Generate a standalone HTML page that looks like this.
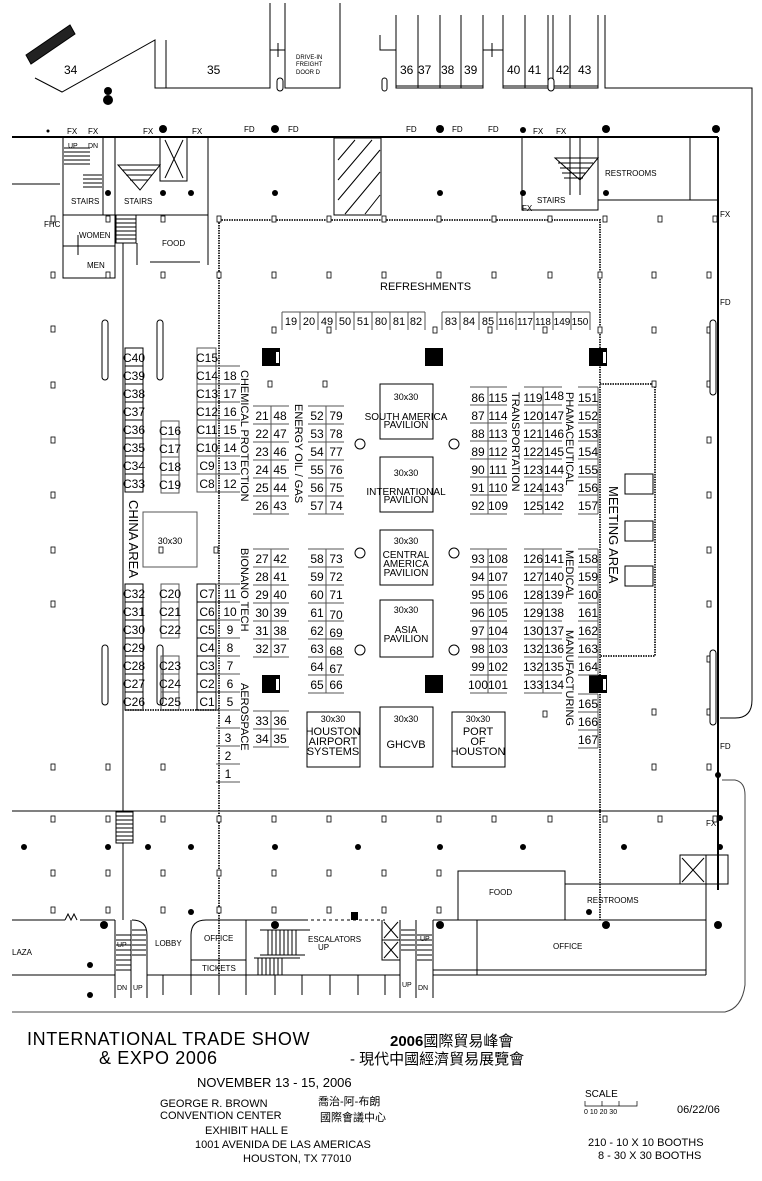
<!DOCTYPE html>
<html><head><meta charset="utf-8"><style>
html,body{margin:0;padding:0;background:#fff}
svg{display:block}
text{font-family:"Liberation Sans","Noto Sans CJK TC",sans-serif;fill:#000}
.n{font-size:12px;text-anchor:middle}
.s{font-size:8px}
.m{font-size:10px}
.b{fill:none;stroke:#000;stroke-width:1}
.g{fill:none;stroke:#555;stroke-width:1}
.w{fill:none;stroke:#333;stroke-width:2;stroke-dasharray:1.5 1}
</style></head><body>
<svg width="762" height="1181" viewBox="0 0 762 1181" xmlns="http://www.w3.org/2000/svg">
<rect width="762" height="1181" fill="#fff"/>
<g stroke="#000" fill="none">
<path d="M26 55 L70 25 L75 34 L31 64Z" fill="#222"/>
<path d="M35 78 L62 92 L155 40 L155 88 L270 88 L270 3"/>
<line x1="166" y1="40" x2="166" y2="88"/>
<path d="M285 3 L285 88 L340 88 L340 3"/>
<path d="M270 50 L285 50 M278 43 L278 57"/>
<rect x="277" y="78" width="6" height="13" rx="3" fill="#fff"/>
<path d="M380 35 L380 50 L396 50"/>
<rect x="382" y="78" width="5" height="13" rx="2.5" fill="#fff"/>
<path d="M396 15 L396 88 L483 88 L483 15 M418 15 L418 88 M440 15 L440 88 M461 15 L461 88"/>
<line x1="396" y1="86" x2="483" y2="86"/>
<path d="M483 50 L503 50 M492 43 L492 57"/>
<path d="M503 15 L503 88 L598 88 L598 15 M525 15 L525 88 M548 15 L548 88 M553 15 L553 88 M570 15 L570 88"/>
<line x1="503" y1="86" x2="598" y2="86"/>
<rect x="548" y="78" width="6" height="13" rx="3" fill="#fff"/>
<path d="M605 15 L605 88 L752 88 L752 700 Q752 718 735 718 L720 718"/>
<path d="M722 780 L735 780 Q745 782 745 795 L745 985 Q742 1008 725 1012 L12 1012" stroke="#444"/>
</g>
<circle cx="108" cy="91" r="4"/><circle cx="108" cy="100" r="5"/>
<text x="64" y="74" style="font-size:12px">34</text>
<text x="207" y="74" style="font-size:12px">35</text>
<text x="296" y="59" style="font-size:6px">DRIVE-IN</text>
<text x="296" y="66" style="font-size:6px">FREIGHT</text>
<text x="296" y="74" style="font-size:6px">DOOR D</text>
<g style="font-size:12px"><text x="400" y="74">36</text><text x="418" y="74">37</text><text x="441" y="74">38</text><text x="464" y="74">39</text>
<text x="507" y="74">40</text><text x="528" y="74">41</text><text x="556" y="74">42</text><text x="578" y="74">43</text></g>
<g stroke="#000" fill="none">
<line x1="12" y1="137" x2="718" y2="137" stroke-width="2"/>
<line x1="718" y1="137" x2="718" y2="890" stroke-width="2"/>
<path d="M63 137 L63 215 M103 137 L103 215 M115 137 L115 215 L208 215 L208 137 M63 215 L115 215 M12 184 L60 184"/>
<path d="M63 215 L63 278 L115 278 L115 215 M63 246 L115 246 M78 235 L78 255 M136 215 L136 243 M137 243 L137 265 M208 215 L208 265 M150 262 L200 262"/>
<rect x="116" y="215" width="20" height="28" fill="#fff"/>
<path d="M116 219 H136 M116 223 H136 M116 227 H136 M116 231 H136 M116 235 H136 M116 239 H136"/>
<path d="M64 148 H90 M64 152 H90 M64 156 H90 M64 160 H90 M64 164 H90 M83 175 H102 M83 179 H102 M83 183 H102 M83 187 H102"/>
<path d="M118 165 L160 165 L140 190 Z M122 170 H156 M126 175 H152 M130 180 H148"/>
<rect x="160" y="137" width="27" height="44"/><path d="M165 140 L183 178 M183 140 L165 178"/>
<rect x="334" y="138" width="47" height="77"/>
<path d="M338 160 L355 140 M338 180 L372 140 M338 200 L380 150 M345 214 L380 172 M365 214 L380 195"/>
<path d="M522 137 L522 210 L598 210 L598 137 M598 200 L718 200 M690 137 L690 200 M570 137 L570 195 M580 137 L580 195"/>
<path d="M555 158 L598 158 L580 180 Z M558 163 H593 M560 168 H590 M562 173 H586 M564 178 H583"/>
</g>
<g class="s">
<text x="67" y="134">FX</text><text x="88" y="134">FX</text><text x="143" y="134">FX</text><text x="192" y="134">FX</text>
<text x="244" y="132">FD</text><text x="288" y="132">FD</text><text x="406" y="132">FD</text><text x="452" y="132">FD</text><text x="488" y="132">FD</text>
<text x="533" y="134">FX</text><text x="556" y="134">FX</text>
<text x="68" y="148" style="font-size:7px">UP</text><text x="88" y="148" style="font-size:7px">DN</text>
<text x="71" y="204">STAIRS</text><text x="124" y="204">STAIRS</text><text x="537" y="203">STAIRS</text>
<text x="522" y="211">FX</text><text x="605" y="176">RESTROOMS</text>
<text x="44" y="227">FHC</text><text x="79" y="238">WOMEN</text><text x="87" y="268">MEN</text><text x="162" y="246">FOOD</text>
<text x="720" y="217">FX</text><text x="720" y="305">FD</text><text x="720" y="749">FD</text><text x="706" y="826">FX</text>
</g>
<g fill="#000">
<circle cx="163" cy="129" r="4"/><circle cx="275" cy="129" r="4"/><circle cx="440" cy="129" r="4"/><circle cx="523" cy="130" r="3"/><circle cx="606" cy="129" r="4"/><circle cx="716" cy="129" r="4"/>
<circle cx="108" cy="193" r="3"/><circle cx="163" cy="193" r="3"/><circle cx="191" cy="193" r="3"/><circle cx="275" cy="193" r="3"/><circle cx="440" cy="193" r="3"/><circle cx="523" cy="193" r="3"/><circle cx="606" cy="193" r="3"/>
<circle cx="48" cy="131" r="1.5"/>
</g>
<line x1="123" y1="243" x2="123" y2="920" stroke="#000"/>
<path class="w" d="M219 220 L600 220 L600 920 M219 220 L219 975"/>
<path class="w" d="M600 384 L655 384 L655 656 L600 656"/>
<rect x="625" y="474" width="28" height="20" class="b"/><rect x="625" y="521" width="28" height="20" class="b"/><rect x="625" y="566" width="28" height="20" class="b"/>
<g fill="#fff" stroke="#000" stroke-width="0.8">
<rect x="51" y="216" width="4" height="6"/><rect x="106" y="216" width="4" height="6"/><rect x="161" y="216" width="4" height="6"/><rect x="217" y="216" width="4" height="6"/><rect x="272" y="216" width="4" height="6"/><rect x="327" y="216" width="4" height="6"/><rect x="382" y="216" width="4" height="6"/><rect x="437" y="216" width="4" height="6"/><rect x="492" y="216" width="4" height="6"/><rect x="548" y="216" width="4" height="6"/><rect x="603" y="216" width="4" height="6"/><rect x="658" y="216" width="4" height="6"/><rect x="713" y="216" width="4" height="6"/>
<rect x="51" y="272" width="4" height="6"/><rect x="106" y="272" width="4" height="6"/><rect x="161" y="272" width="4" height="6"/><rect x="217" y="272" width="4" height="6"/><rect x="272" y="272" width="4" height="6"/><rect x="327" y="272" width="4" height="6"/><rect x="382" y="272" width="4" height="6"/><rect x="437" y="272" width="4" height="6"/><rect x="492" y="272" width="4" height="6"/><rect x="548" y="272" width="4" height="6"/><rect x="598" y="272" width="4" height="6"/><rect x="652" y="272" width="4" height="6"/><rect x="707" y="272" width="4" height="6"/>
<rect x="51" y="326" width="4" height="6"/><rect x="272" y="327" width="4" height="6"/><rect x="327" y="327" width="4" height="6"/><rect x="433" y="327" width="4" height="6"/><rect x="488" y="327" width="4" height="6"/><rect x="543" y="327" width="4" height="6"/><rect x="598" y="327" width="4" height="6"/><rect x="652" y="327" width="4" height="6"/><rect x="707" y="327" width="4" height="6"/>
<rect x="51" y="382" width="4" height="6"/><rect x="268" y="381" width="4" height="6"/><rect x="323" y="381" width="4" height="6"/><rect x="652" y="381" width="4" height="6"/><rect x="707" y="381" width="4" height="6"/>
<rect x="51" y="437" width="4" height="6"/><rect x="707" y="437" width="4" height="6"/>
<rect x="51" y="492" width="4" height="6"/><rect x="707" y="492" width="4" height="6"/>
<rect x="51" y="547" width="4" height="6"/><rect x="159" y="547" width="4" height="6"/><rect x="214" y="547" width="4" height="6"/><rect x="707" y="547" width="4" height="6"/>
<rect x="51" y="601" width="4" height="6"/><rect x="707" y="601" width="4" height="6"/>
<rect x="707" y="656" width="4" height="6"/>
<rect x="707" y="709" width="4" height="6"/><rect x="652" y="709" width="4" height="6"/><rect x="543" y="711" width="4" height="6"/>
<rect x="51" y="764" width="4" height="6"/><rect x="106" y="764" width="4" height="6"/><rect x="161" y="764" width="4" height="6"/><rect x="652" y="764" width="4" height="6"/><rect x="707" y="764" width="4" height="6"/>
<rect x="51" y="816" width="4" height="6"/><rect x="106" y="816" width="4" height="6"/><rect x="161" y="816" width="4" height="6"/><rect x="217" y="816" width="4" height="6"/><rect x="272" y="816" width="4" height="6"/><rect x="327" y="816" width="4" height="6"/><rect x="382" y="816" width="4" height="6"/><rect x="437" y="816" width="4" height="6"/><rect x="492" y="816" width="4" height="6"/><rect x="548" y="816" width="4" height="6"/><rect x="603" y="816" width="4" height="6"/><rect x="658" y="816" width="4" height="6"/><rect x="713" y="816" width="4" height="6"/>
<rect x="51" y="870" width="4" height="6"/><rect x="106" y="870" width="4" height="6"/><rect x="161" y="870" width="4" height="6"/><rect x="217" y="870" width="4" height="6"/><rect x="272" y="870" width="4" height="6"/><rect x="327" y="870" width="4" height="6"/><rect x="382" y="870" width="4" height="6"/><rect x="437" y="870" width="4" height="6"/>
<rect x="51" y="907" width="4" height="6"/><rect x="106" y="907" width="4" height="6"/><rect x="161" y="907" width="4" height="6"/><rect x="217" y="907" width="4" height="6"/><rect x="272" y="907" width="4" height="6"/><rect x="327" y="907" width="4" height="6"/><rect x="382" y="907" width="4" height="6"/><rect x="437" y="907" width="4" height="6"/>
</g>
<g fill="#fff" stroke="#000">
<rect x="102" y="320" width="6" height="60" rx="3"/><rect x="157" y="320" width="6" height="60" rx="3"/>
<rect x="102" y="645" width="6" height="60" rx="3"/><rect x="157" y="645" width="6" height="60" rx="3"/>
<rect x="710" y="320" width="6" height="75" rx="3"/><rect x="710" y="650" width="6" height="75" rx="3"/>
</g>
<text x="380" y="290" style="font-size:11px">REFRESHMENTS</text>
<g class="g">
<path d="M282 312 H425 M282 312 V330 M300 312 V330 M318 312 V330 M336 312 V330 M354 312 V330 M372 312 V330 M390 312 V330 M408 312 V330 M425 312 V330"/>
<path d="M442 312 H590 M442 312 V330 M460 312 V330 M479 312 V330 M497 312 V330 M516 312 V330 M534 312 V330 M553 312 V330 M571 312 V330 M590 312 V330"/>
</g>
<g class="n" style="font-size:11px">
<text x="291" y="325">19</text><text x="309" y="325">20</text><text x="327" y="325">49</text><text x="345" y="325">50</text><text x="363" y="325">51</text><text x="381" y="325">80</text><text x="399" y="325">81</text><text x="416" y="325">82</text>
<text x="451" y="325">83</text><text x="469" y="325">84</text><text x="488" y="325">85</text><text x="506" y="325" style="font-size:10px">116</text><text x="525" y="325" style="font-size:10px">117</text><text x="543" y="325" style="font-size:10px">118</text><text x="562" y="325" style="font-size:10px">149</text><text x="580" y="325" style="font-size:10px">150</text>
</g>
<g fill="#000"><rect x="262" y="348" width="18" height="18"/><rect x="425" y="348" width="18" height="18"/><rect x="589" y="348" width="18" height="18"/>
<rect x="262" y="675" width="18" height="18"/><rect x="425" y="675" width="18" height="18"/><rect x="589" y="675" width="18" height="18"/></g>
<g fill="#fff"><rect x="276" y="352" width="3" height="11"/><rect x="603" y="352" width="3" height="11"/><rect x="276" y="679" width="3" height="11"/><rect x="603" y="679" width="3" height="11"/></g>
<g fill="#fff" stroke="#000"><circle cx="360" cy="444" r="5"/><circle cx="454" cy="444" r="5"/><circle cx="360" cy="553" r="5"/><circle cx="454" cy="553" r="5"/><circle cx="360" cy="650" r="5"/><circle cx="454" cy="650" r="5"/></g>
<g class="b">
<rect x="380" y="384" width="53" height="55"/><rect x="380" y="457" width="53" height="55"/><rect x="380" y="530" width="53" height="55"/><rect x="380" y="600" width="53" height="57"/>
<rect x="307" y="712" width="53" height="55"/><rect x="380" y="707" width="53" height="60"/><rect x="452" y="712" width="53" height="55"/>
<rect x="143" y="512" width="54" height="55" stroke="#555"/>
</g>
<g class="m" text-anchor="middle">
<text x="406" y="400" style="font-size:9px">30x30</text><text x="406" y="420">SOUTH  AMERICA</text><text x="406" y="428">PAVILION</text>
<text x="406" y="476" style="font-size:9px">30x30</text><text x="406" y="495">INTERNATIONAL</text><text x="406" y="503">PAVILION</text>
<text x="406" y="544" style="font-size:9px">30x30</text><text x="406" y="558">CENTRAL</text><text x="406" y="567">AMERICA</text><text x="406" y="576">PAVILION</text>
<text x="406" y="613" style="font-size:9px">30x30</text><text x="406" y="633">ASIA</text><text x="406" y="642">PAVILION</text>
<text x="333" y="722" style="font-size:9px">30x30</text><text x="333" y="735" style="font-size:11px">HOUSTON</text><text x="333" y="745" style="font-size:11px">AIRPORT</text><text x="333" y="755" style="font-size:11px">SYSTEMS</text>
<text x="406" y="722" style="font-size:9px">30x30</text><text x="406" y="748" style="font-size:11px">GHCVB</text>
<text x="478" y="722" style="font-size:9px">30x30</text><text x="478" y="735" style="font-size:11px">PORT</text><text x="478" y="745" style="font-size:11px">OF</text><text x="478" y="755" style="font-size:11px">HOUSTON</text>
<text x="170" y="544" style="font-size:9px">30x30</text>
</g>
<g class="g">
<path d="M253 406 H289 M253 424 H289 M253 442 H289 M253 460 H289 M253 478 H289 M253 496 H289 M253 514 H289 M271 406 V514"/>
<path d="M308 406 H344 M308 424 H344 M308 442 H344 M308 460 H344 M308 478 H344 M308 496 H344 M308 514 H344 M326 406 V514"/>
<path d="M470 387 H507 M470 405 H507 M470 423 H507 M470 441 H507 M470 459 H507 M470 477 H507 M470 495 H507 M470 514 H507 M488 387 V514"/>
<path d="M524 387 H562 M524 405 H562 M524 423 H562 M524 441 H562 M524 459 H562 M524 477 H562 M524 495 H562 M524 514 H562 M543 387 V514"/>
<path d="M578 387 H598 M578 405 H598 M578 423 H598 M578 441 H598 M578 459 H598 M578 477 H598 M578 495 H598 M578 514 H598 M598 387 V514"/>
<path d="M253 549 H289 M253 567 H289 M253 585 H289 M253 603 H289 M253 621 H289 M253 639 H289 M253 657 H289 M271 549 V657"/>
<path d="M308 549 H344 M308 567 H344 M308 585 H344 M308 603 H344 M308 621 H344 M308 639 H344 M308 657 H344 M308 675 H344 M308 693 H344 M326 549 V693"/>
<path d="M470 549 H507 M470 567 H507 M470 585 H507 M470 603 H507 M470 621 H507 M470 639 H507 M470 657 H507 M470 675 H507 M470 693 H507 M488 549 V693"/>
<path d="M524 549 H562 M524 567 H562 M524 585 H562 M524 603 H562 M524 621 H562 M524 639 H562 M524 657 H562 M524 675 H562 M524 693 H562 M543 549 V693"/>
<path d="M578 549 H598 M578 567 H598 M578 585 H598 M578 603 H598 M578 621 H598 M578 639 H598 M578 657 H598 M578 675 H598 M598 549 V675 M578 694 H598 M578 712 H598 M578 730 H598 M578 748 H598 M598 694 V748"/>
<path d="M253 711 H289 M253 729 H289 M253 747 H289 M271 711 V747"/>
<path d="M125 348 H143 V492 H125 Z M125 366 H143 M125 384 H143 M125 402 H143 M125 420 H143 M125 438 H143 M125 456 H143 M125 474 H143" stroke="#000"/>
<path d="M125 584 H143 V710 H125 Z M125 602 H143 M125 620 H143 M125 638 H143 M125 656 H143 M125 674 H143 M125 692 H143" stroke="#000"/>
<path d="M161 421 H179 V493 H161 Z M161 439 H179 M161 457 H179 M161 475 H179"/>
<path d="M161 584 H179 V638 H161 Z M161 602 H179 M161 620 H179"/>
<path d="M161 656 H179 V710 H161 Z M161 674 H179 M161 692 H179"/>
<path d="M197 348 H216 V492 H197 Z M197 366 H216 M197 384 H216 M197 402 H216 M197 420 H216 M197 438 H216 M197 456 H216 M197 474 H216"/>
<path d="M216 366 H240 M216 384 H240 M216 402 H240 M216 420 H240 M216 438 H240 M216 456 H240 M216 474 H240 M216 492 H240"/>
<path d="M197 584 H216 V710 H197 Z M197 602 H216 M197 620 H216 M197 638 H216 M197 656 H216 M197 674 H216 M197 692 H216" stroke="#000"/>
<path d="M216 584 H240 M216 602 H240 M216 620 H240 M216 638 H240 M216 656 H240 M216 674 H240 M216 692 H240 M216 710 H240 M216 728 H240 M216 746 H240 M216 764 H240 M216 782 H240"/>
</g>
<path d="M125 710 L219 710" class="w" stroke-width="1.5"/>
<g class="n">
<text x="262" y="420">21</text><text x="280" y="420">48</text><text x="262" y="438">22</text><text x="280" y="438">47</text><text x="262" y="456">23</text><text x="280" y="456">46</text><text x="262" y="474">24</text><text x="280" y="474">45</text><text x="262" y="492">25</text><text x="280" y="492">44</text><text x="262" y="510">26</text><text x="280" y="510">43</text>
<text x="317" y="420">52</text><text x="336" y="420">79</text><text x="317" y="438">53</text><text x="336" y="438">78</text><text x="317" y="456">54</text><text x="336" y="456">77</text><text x="317" y="474">55</text><text x="336" y="474">76</text><text x="317" y="492">56</text><text x="336" y="492">75</text><text x="317" y="510">57</text><text x="336" y="510">74</text>
<text x="478" y="402">86</text><text x="498" y="402">115</text><text x="478" y="420">87</text><text x="498" y="420">114</text><text x="478" y="438">88</text><text x="498" y="438">113</text><text x="478" y="456">89</text><text x="498" y="456">112</text><text x="478" y="474">90</text><text x="498" y="474">111</text><text x="478" y="492">91</text><text x="498" y="492">110</text><text x="478" y="510">92</text><text x="498" y="510">109</text>
<text x="533" y="402">119</text><text x="554" y="400">148</text><text x="533" y="420">120</text><text x="554" y="420">147</text><text x="533" y="438">121</text><text x="554" y="438">146</text><text x="533" y="456">122</text><text x="554" y="456">145</text><text x="533" y="474">123</text><text x="554" y="474">144</text><text x="533" y="492">124</text><text x="554" y="492">143</text><text x="533" y="510">125</text><text x="554" y="510">142</text>
<text x="588" y="402">151</text><text x="588" y="420">152</text><text x="588" y="438">153</text><text x="588" y="456">154</text><text x="588" y="474">155</text><text x="588" y="492">156</text><text x="588" y="510">157</text>
<text x="262" y="563">27</text><text x="280" y="563">42</text><text x="262" y="581">28</text><text x="280" y="581">41</text><text x="262" y="599">29</text><text x="280" y="599">40</text><text x="262" y="617">30</text><text x="280" y="617">39</text><text x="262" y="635">31</text><text x="280" y="635">38</text><text x="262" y="653">32</text><text x="280" y="653">37</text>
<text x="317" y="563">58</text><text x="336" y="563">73</text><text x="317" y="581">59</text><text x="336" y="581">72</text><text x="317" y="599">60</text><text x="336" y="599">71</text><text x="317" y="617">61</text><text x="336" y="619">70</text><text x="317" y="635">62</text><text x="336" y="637">69</text><text x="317" y="653">63</text><text x="336" y="655">68</text><text x="317" y="671">64</text><text x="336" y="673">67</text><text x="317" y="689">65</text><text x="336" y="689">66</text>
<text x="478" y="563">93</text><text x="498" y="563">108</text><text x="478" y="581">94</text><text x="498" y="581">107</text><text x="478" y="599">95</text><text x="498" y="599">106</text><text x="478" y="617">96</text><text x="498" y="617">105</text><text x="478" y="635">97</text><text x="498" y="635">104</text><text x="478" y="653">98</text><text x="498" y="653">103</text><text x="478" y="671">99</text><text x="498" y="671">102</text><text x="478" y="689">100</text><text x="498" y="689">101</text>
<text x="533" y="563">126</text><text x="554" y="563">141</text><text x="533" y="581">127</text><text x="554" y="581">140</text><text x="533" y="599">128</text><text x="554" y="599">139</text><text x="533" y="617">129</text><text x="554" y="617">138</text><text x="533" y="635">130</text><text x="554" y="635">137</text><text x="533" y="653">132</text><text x="554" y="653">136</text><text x="533" y="671">132</text><text x="554" y="671">135</text><text x="533" y="689">133</text><text x="554" y="689">134</text>
<text x="588" y="563">158</text><text x="588" y="581">159</text><text x="588" y="599">160</text><text x="588" y="617">161</text><text x="588" y="635">162</text><text x="588" y="653">163</text><text x="588" y="671">164</text><text x="588" y="708">165</text><text x="588" y="726">166</text><text x="588" y="744">167</text>
<text x="262" y="725">33</text><text x="280" y="725">36</text><text x="262" y="743">34</text><text x="280" y="743">35</text>
<text x="134" y="362">C40</text><text x="134" y="380">C39</text><text x="134" y="398">C38</text><text x="134" y="416">C37</text><text x="134" y="434">C36</text><text x="134" y="452">C35</text><text x="134" y="470">C34</text><text x="134" y="488">C33</text>
<text x="134" y="598">C32</text><text x="134" y="616">C31</text><text x="134" y="634">C30</text><text x="134" y="652">C29</text><text x="134" y="670">C28</text><text x="134" y="688">C27</text><text x="134" y="706">C26</text>
<text x="170" y="435">C16</text><text x="170" y="453">C17</text><text x="170" y="471">C18</text><text x="170" y="489">C19</text>
<text x="170" y="598">C20</text><text x="170" y="616">C21</text><text x="170" y="634">C22</text>
<text x="170" y="670">C23</text><text x="170" y="688">C24</text><text x="170" y="706">C25</text>
<text x="207" y="362">C15</text><text x="207" y="380">C14</text><text x="207" y="398">C13</text><text x="207" y="416">C12</text><text x="207" y="434">C11</text><text x="207" y="452">C10</text><text x="207" y="470">C9</text><text x="207" y="488">C8</text>
<text x="230" y="380">18</text><text x="230" y="398">17</text><text x="230" y="416">16</text><text x="230" y="434">15</text><text x="230" y="452">14</text><text x="230" y="470">13</text><text x="230" y="488">12</text>
<text x="207" y="598">C7</text><text x="207" y="616">C6</text><text x="207" y="634">C5</text><text x="207" y="652">C4</text><text x="207" y="670">C3</text><text x="207" y="688">C2</text><text x="207" y="706">C1</text>
<text x="230" y="598">11</text><text x="230" y="616">10</text><text x="230" y="634">9</text><text x="230" y="652">8</text><text x="230" y="670">7</text><text x="230" y="688">6</text><text x="230" y="706">5</text>
<text x="228" y="724">4</text><text x="228" y="742">3</text><text x="228" y="760">2</text><text x="228" y="778">1</text>
</g>
<g style="font-size:11px">
<text transform="translate(241,370) rotate(90)">CHEMICAL PROTECTION</text>
<text transform="translate(295,404) rotate(90)">ENERGY  OIL / GAS</text>
<text transform="translate(241,548) rotate(90)">BIONANO TECH</text>
<text transform="translate(241,683) rotate(90)">AEROSPACE</text>
<text transform="translate(512,392) rotate(90)">TRANSPORTATION</text>
<text transform="translate(566,392) rotate(90)">PHAMACEUTICAL</text>
<text transform="translate(566,550) rotate(90)">MEDICAL</text>
<text transform="translate(566,630) rotate(90)">MANUFACTURING</text>
<text transform="translate(609,486) rotate(90)" style="font-size:13px">MEETING AREA</text>
<text transform="translate(129,500) rotate(90)" style="font-size:13px">CHINA AREA</text>
</g>
<g stroke="#000" fill="none">
<line x1="12" y1="811" x2="718" y2="811"/>
<rect x="116" y="812" width="17" height="31" fill="#fff"/>
<path d="M116 816 H133 M116 820 H133 M116 824 H133 M116 828 H133 M116 832 H133 M116 836 H133 M116 840 H133"/>
<rect x="458" y="871" width="107" height="49"/>
<path d="M565 884 L706 884 L706 920 M706 855 L728 855 L728 884 L706 884"/>
<rect x="680" y="855" width="26" height="29"/><path d="M682 858 L704 882 M704 858 L682 882"/>
<path d="M12 920 L65 920 M80 920 L115 920 M115 920 L115 998 M131 920 L131 998 M147 998 L147 935 Q147 920 132 920"/>
<path d="M65 920 L68 914 L71 920 L74 914 L77 920"/>
<path d="M12 975 L115 975 M147 975 L400 975 M433 975 L706 975 M433 970 L706 970"/>
<path d="M191 975 L191 935 Q191 920 206 920 L305 920 M246 920 L246 975 M191 960 L246 960" />
<path d="M305 920 L385 920" stroke-dasharray="3 3"/>
<path d="M382 920 L382 960 L400 960 L400 920 M382 940 L400 940 M384 922 L398 938 M398 922 L384 938 M384 942 L398 958 M398 942 L384 958"/>
<path d="M400 920 L400 998 M416 920 L416 998 M433 920 L433 998 M433 920 L706 920 M477 920 L477 975 M706 920 L706 975"/>
<path d="M163 975 V995 M191 975 V995 M219 975 V995 M246 975 V995 M275 975 V995 M302 975 V995 M330 975 V995 M358 975 V995 M385 975 V995"/>
<path d="M268 930 V955 M272 930 V955 M276 930 V955 M280 930 V955 M284 930 V955 M288 930 V955 M292 930 V955 M296 930 V955 M260 930 H310 M260 955 H305"/>
<path d="M258 958 V975 M262 958 V975 M266 958 V975 M270 958 V975 M274 958 V975 M278 958 V975 M282 958 V975 M254 958 H300"/>
<path d="M116 935 H131 M116 940 H131 M116 945 H131 M116 950 H131 M116 955 H131 M116 960 H131 M116 965 H131 M116 970 H131 M132 930 H146 M132 935 H146 M132 940 H146 M132 945 H146 M132 950 H146 M132 955 H146"/>
<path d="M401 930 H415 M401 935 H415 M401 940 H415 M401 945 H415 M401 950 H415 M417 935 H432 M417 940 H432 M417 945 H432 M417 950 H432 M417 955 H432 M417 960 H432"/>
</g>
<rect x="351" y="912" width="7" height="8" fill="#000"/>
<g fill="#000">
<circle cx="24" cy="847" r="3"/><circle cx="108" cy="847" r="3"/><circle cx="148" cy="847" r="3"/><circle cx="191" cy="847" r="3"/><circle cx="275" cy="847" r="3"/><circle cx="358" cy="847" r="3"/><circle cx="440" cy="847" r="3"/><circle cx="523" cy="847" r="3"/><circle cx="624" cy="847" r="3"/><circle cx="720" cy="847" r="3"/>
<circle cx="104" cy="925" r="4"/><circle cx="275" cy="925" r="4"/><circle cx="440" cy="925" r="4"/><circle cx="606" cy="925" r="4"/><circle cx="718" cy="925" r="4"/>
<circle cx="191" cy="912" r="3"/><circle cx="589" cy="912" r="3"/><circle cx="720" cy="818" r="3"/><circle cx="718" cy="775" r="3"/>
<circle cx="90" cy="965" r="3"/><circle cx="90" cy="995" r="3"/>
</g>
<g class="s">
<text x="12" y="955">LAZA</text><text x="155" y="946">LOBBY</text><text x="204" y="941">OFFICE</text><text x="202" y="971">TICKETS</text>
<text x="308" y="942">ESCALATORS</text><text x="318" y="950">UP</text>
<text x="117" y="947" style="font-size:7px">UP</text><text x="117" y="990" style="font-size:7px">DN</text><text x="133" y="990" style="font-size:7px">UP</text>
<text x="420" y="941" style="font-size:7px">UP</text><text x="402" y="987" style="font-size:7px">UP</text><text x="418" y="990" style="font-size:7px">DN</text>
<text x="489" y="895">FOOD</text><text x="587" y="903">RESTROOMS</text><text x="553" y="949">OFFICE</text>
</g>
<text x="27" y="1045" style="font-size:18px;letter-spacing:0.6px">INTERNATIONAL  TRADE  SHOW</text>
<text x="99" y="1064" style="font-size:18px;letter-spacing:0.6px">&amp;  EXPO  2006</text>
<text x="390" y="1046" style="font-size:15px;font-weight:bold">2006<tspan style="font-weight:normal">國際貿易峰會</tspan></text>
<text x="350" y="1064" style="font-size:15px">- 現代中國經濟貿易展覽會</text>
<text x="197" y="1087" style="font-size:13px">NOVEMBER 13 - 15, 2006</text>
<text x="160" y="1107" style="font-size:11px">GEORGE  R.  BROWN</text>
<text x="160" y="1119" style="font-size:11px">CONVENTION CENTER</text>
<text x="318" y="1105" style="font-size:11px">喬治-阿-布朗</text>
<text x="320" y="1121" style="font-size:11px">國際會議中心</text>
<text x="205" y="1134" style="font-size:11px">EXHIBIT  HALL  E</text>
<text x="195" y="1148" style="font-size:11px">1001 AVENIDA  DE  LAS  AMERICAS</text>
<text x="243" y="1162" style="font-size:11px">HOUSTON, TX 77010</text>
<text x="585" y="1097" style="font-size:10px">SCALE</text>
<path d="M585 1101 V1106 H637 V1101 M602 1101 V1106 M619 1101 V1106" stroke="#000" fill="none" stroke-width="0.7"/>
<text x="584" y="1114" style="font-size:7px">0   10  20  30</text>
<text x="677" y="1113" style="font-size:11px">06/22/06</text>
<text x="588" y="1146" style="font-size:11px">210 - 10 X 10 BOOTHS</text>
<text x="598" y="1159" style="font-size:11px">8 - 30 X 30 BOOTHS</text>
</svg>
</body></html>
